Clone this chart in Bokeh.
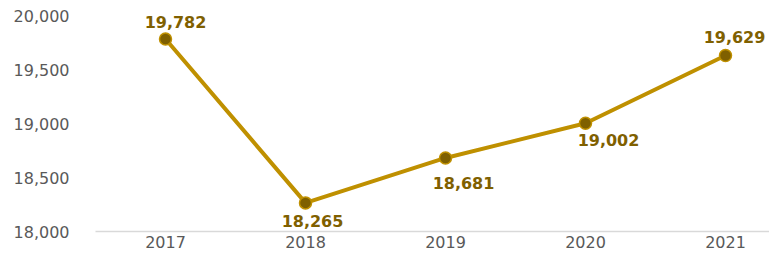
from bokeh.plotting import figure
from bokeh.models import ColumnDataSource, NumeralTickFormatter, FixedTicker, Range1d
from bokeh.embed import file_html
from bokeh.resources import INLINE

years = [2017, 2018, 2019, 2020, 2021]
values = [19782, 18265, 18681, 19002, 19629]
labels = ["19,782", "18,265", "18,681", "19,002", "19,629"]
label_dx = [10, 7, 18, 23, 9]
label_dy = [-17, 18, 25, 17, -19]

src = ColumnDataSource(dict(x=years, y=values, lab=labels, dx=label_dx, dy=label_dy))

W, H = 769, 255
left, top, bottom = 95, 15, 24
p = figure(width=W, height=H, output_backend="svg", toolbar_location=None,
           x_range=Range1d(2016.5, 2016.5 + (W - left) / 140), y_range=Range1d(18000, 20000),
           min_border_left=left, min_border_right=0, min_border_top=top, min_border_bottom=bottom)
p.outline_line_color = None
p.background_fill_color = "white"
p.border_fill_color = "white"

p.line("x", "y", source=src, line_color="#BF9000", line_width=4)
p.scatter("x", "y", source=src, size=12, fill_color="#7F6000", line_color="#BF9000", line_width=1.5)
p.text("x", "y", text="lab", source=src, x_offset="dx", y_offset="dy",
       text_align="center", text_baseline="middle", text_color="#7F6000",
       text_font_size="16px", text_font_style="bold", text_font={"value": "DejaVu Sans"})

p.xgrid.grid_line_color = None
p.ygrid.grid_line_color = None

p.xaxis.ticker = FixedTicker(ticks=years)
p.xaxis.axis_line_color = "#D9D9D9"
p.xaxis.axis_line_width = 1.5
p.xaxis.major_tick_line_color = None
p.xaxis.major_tick_out = 0
p.xaxis.major_tick_in = 0
p.xaxis.minor_tick_line_color = None
p.xaxis.major_label_standoff = 4
p.xaxis.major_label_text_color = "#595959"
p.xaxis.major_label_text_font = "DejaVu Sans"
p.xaxis.major_label_text_font_size = "16px"

p.yaxis.ticker = FixedTicker(ticks=[18000, 18500, 19000, 19500, 20000])
p.yaxis.formatter = NumeralTickFormatter(format="0,0")
p.yaxis.axis_line_color = None
p.yaxis.major_tick_line_color = None
p.yaxis.major_tick_out = 0
p.yaxis.major_tick_in = 0
p.yaxis.minor_tick_line_color = None
p.yaxis.major_label_standoff = 26
p.yaxis.major_label_text_color = "#595959"
p.yaxis.major_label_text_font = "DejaVu Sans"
p.yaxis.major_label_text_font_size = "16px"

open("out.html", "w").write(file_html(p, INLINE))
